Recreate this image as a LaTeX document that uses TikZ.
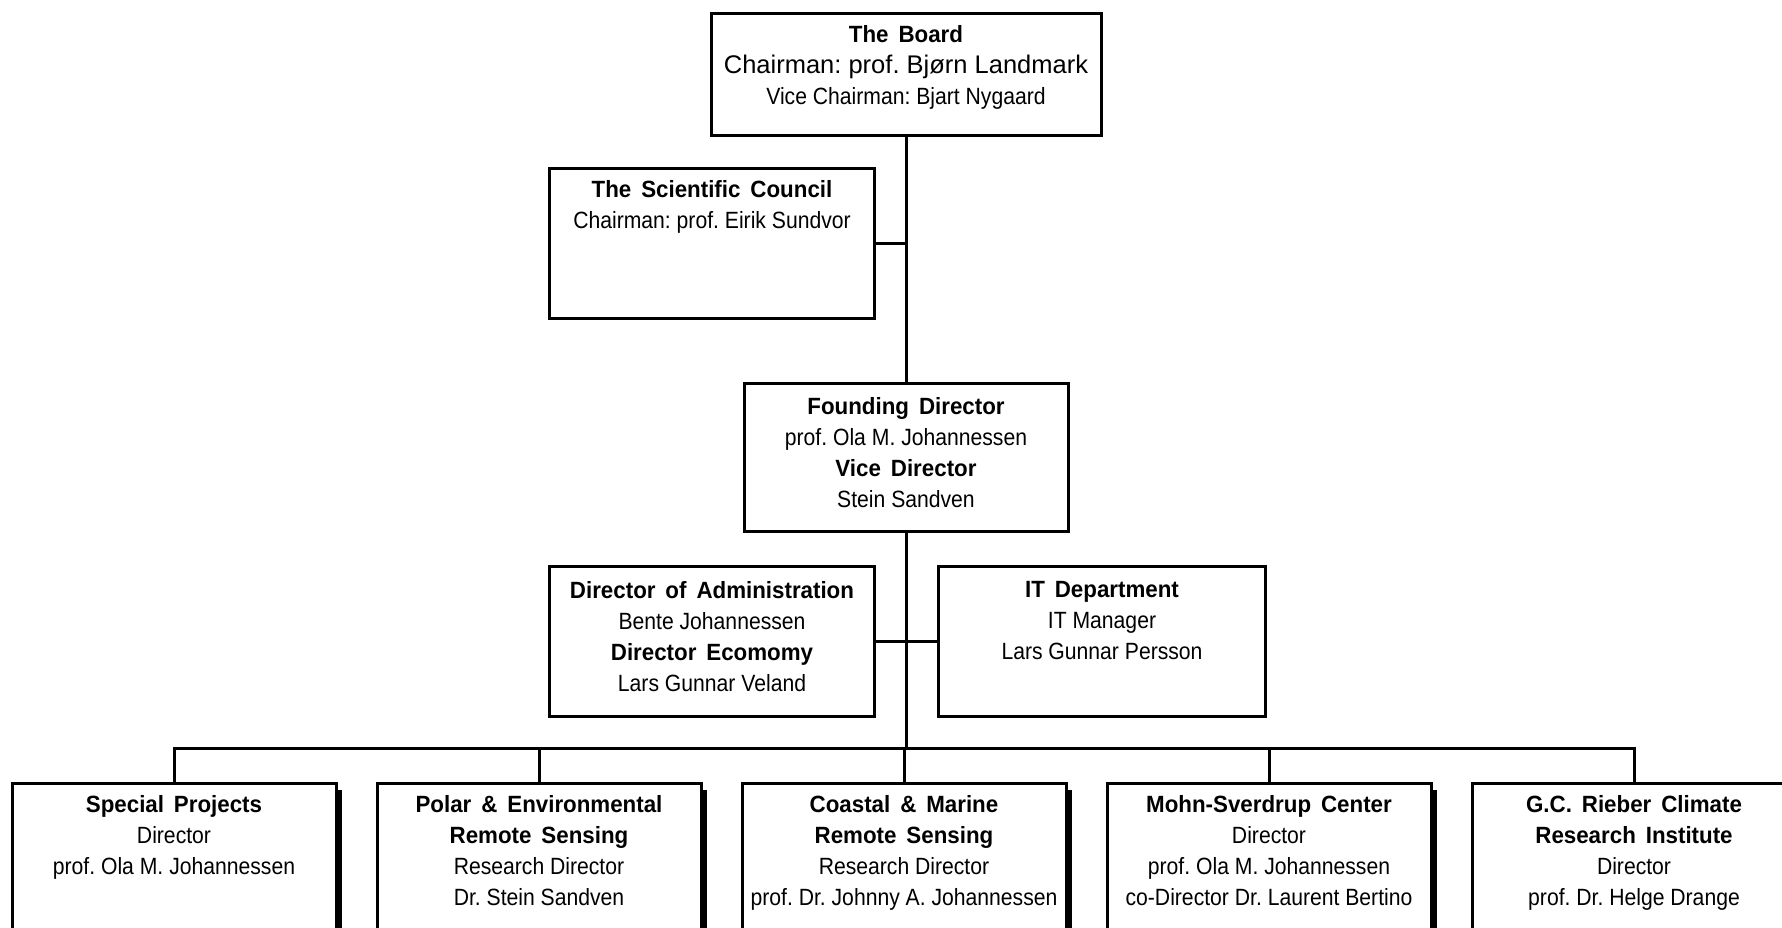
\documentclass[tikz,border=0pt]{standalone}
\usepackage{fontspec}
\setmainfont[FakeStretch=0.9, BoldFeatures={FakeStretch=0.95, WordSpace=1.6}]{Liberation Sans}
\newfontfamily\chairfont{Liberation Sans}
\usetikzlibrary{positioning}
\usetikzlibrary{shadows}
\frenchspacing

\tikzset{
	orgbox/.style={draw, fill=white, line width=3pt, inner sep=0pt},
	unitbox/.style={orgbox, minimum width=324pt, minimum height=200pt, anchor=north,
		drop shadow={fill=black, opacity=1, shadow xshift=6pt, shadow yshift=-6pt}},
	orgtext/.style={align=center, inner sep=0pt, font=\fontsize{23.5}{31}\selectfont},
}

\begin{document}
\begin{tikzpicture}[x=1pt, y=-1pt, line width=3pt]
	
	\useasboundingbox (0,0) rectangle (1782,927);
	\clip (0,0) rectangle (1782,927);
	
	% top of the chart
	\node[orgbox, minimum width=390pt, minimum height=122pt, anchor=north] (board) at (906,12) {};
	\node[orgtext, below=12pt of board.north] (boardtxt) {\textbf{The Board}\\{\chairfont\fontsize{25.5}{32}\selectfont Chairman: prof. Bjørn Landmark}\\Vice Chairman: Bjart Nygaard};
	
	\node[orgbox, minimum width=325pt, minimum height=150pt, anchor=north west] (council) at (548,167) {};
	\node[orgtext, below=12pt of council.north] (counciltxt) {\textbf{The Scientific Council}\\Chairman: prof. Eirik Sundvor};
	
	\node[orgbox, minimum width=324pt, minimum height=148pt, anchor=north] (founding) at (906,382) {};
	\node[orgtext, below=14pt of founding.north] (foundingtxt) {\textbf{Founding Director}\\prof. Ola M. Johannessen\\\textbf{Vice Director}\\Stein Sandven};
	
	\node[orgbox, minimum width=325pt, minimum height=150pt, anchor=north west] (admin) at (548,565) {};
	\node[orgtext, below=15pt of admin.north] (admintxt) {\textbf{Director of Administration}\\Bente Johannessen\\\textbf{Director Ecomomy}\\Lars Gunnar Veland};
	
	\node[orgbox, minimum width=327pt, minimum height=150pt, anchor=north west] (it) at (937,565) {};
	\node[orgtext, below=15pt of it.north] (ittxt) {\textbf{IT Department}\\IT Manager\\Lars Gunnar Persson};
	
	\coordinate (bus) at (906,748);
	
	% the five departments
	\foreach \i/\name/\txt in {%
		0/special/{\textbf{Special Projects}\\Director\\prof. Ola M. Johannessen},
		1/polar/{\textbf{Polar \& Environmental}\\\textbf{Remote Sensing}\\Research Director\\Dr. Stein Sandven},
		2/coastal/{\textbf{Coastal \& Marine}\\\textbf{Remote Sensing}\\Research Director\\prof. Dr. Johnny A. Johannessen},
		3/mohn/{\textbf{Mohn-Sverdrup Center}\\Director\\prof. Ola M. Johannessen\\co-Director Dr. Laurent Bertino},
		4/rieber/{\textbf{G.C. Rieber Climate}\\\textbf{Research Institute}\\Director\\prof. Dr. Helge Drange}}
	{
		\node[unitbox] (\name) at (174+365*\i,782) {};
		\node[orgtext, below=12pt of \name.north] (\name txt) {\txt};
	}
	
	% connectors
	\draw (board.south) -- (founding.north);
	\draw (founding.south) -- (bus);
	\draw (council.east) -- (council.east -| board.south);
	\draw (admin.east) -- (it.west);
	\draw[line join=miter] (special.north) -- (special.north |- bus) -- (rieber.north |- bus) -- (rieber.north);
	\foreach \name in {polar,coastal,mohn}
		\draw (\name.north |- bus) -- (\name.north);
	
\end{tikzpicture}
\end{document}
